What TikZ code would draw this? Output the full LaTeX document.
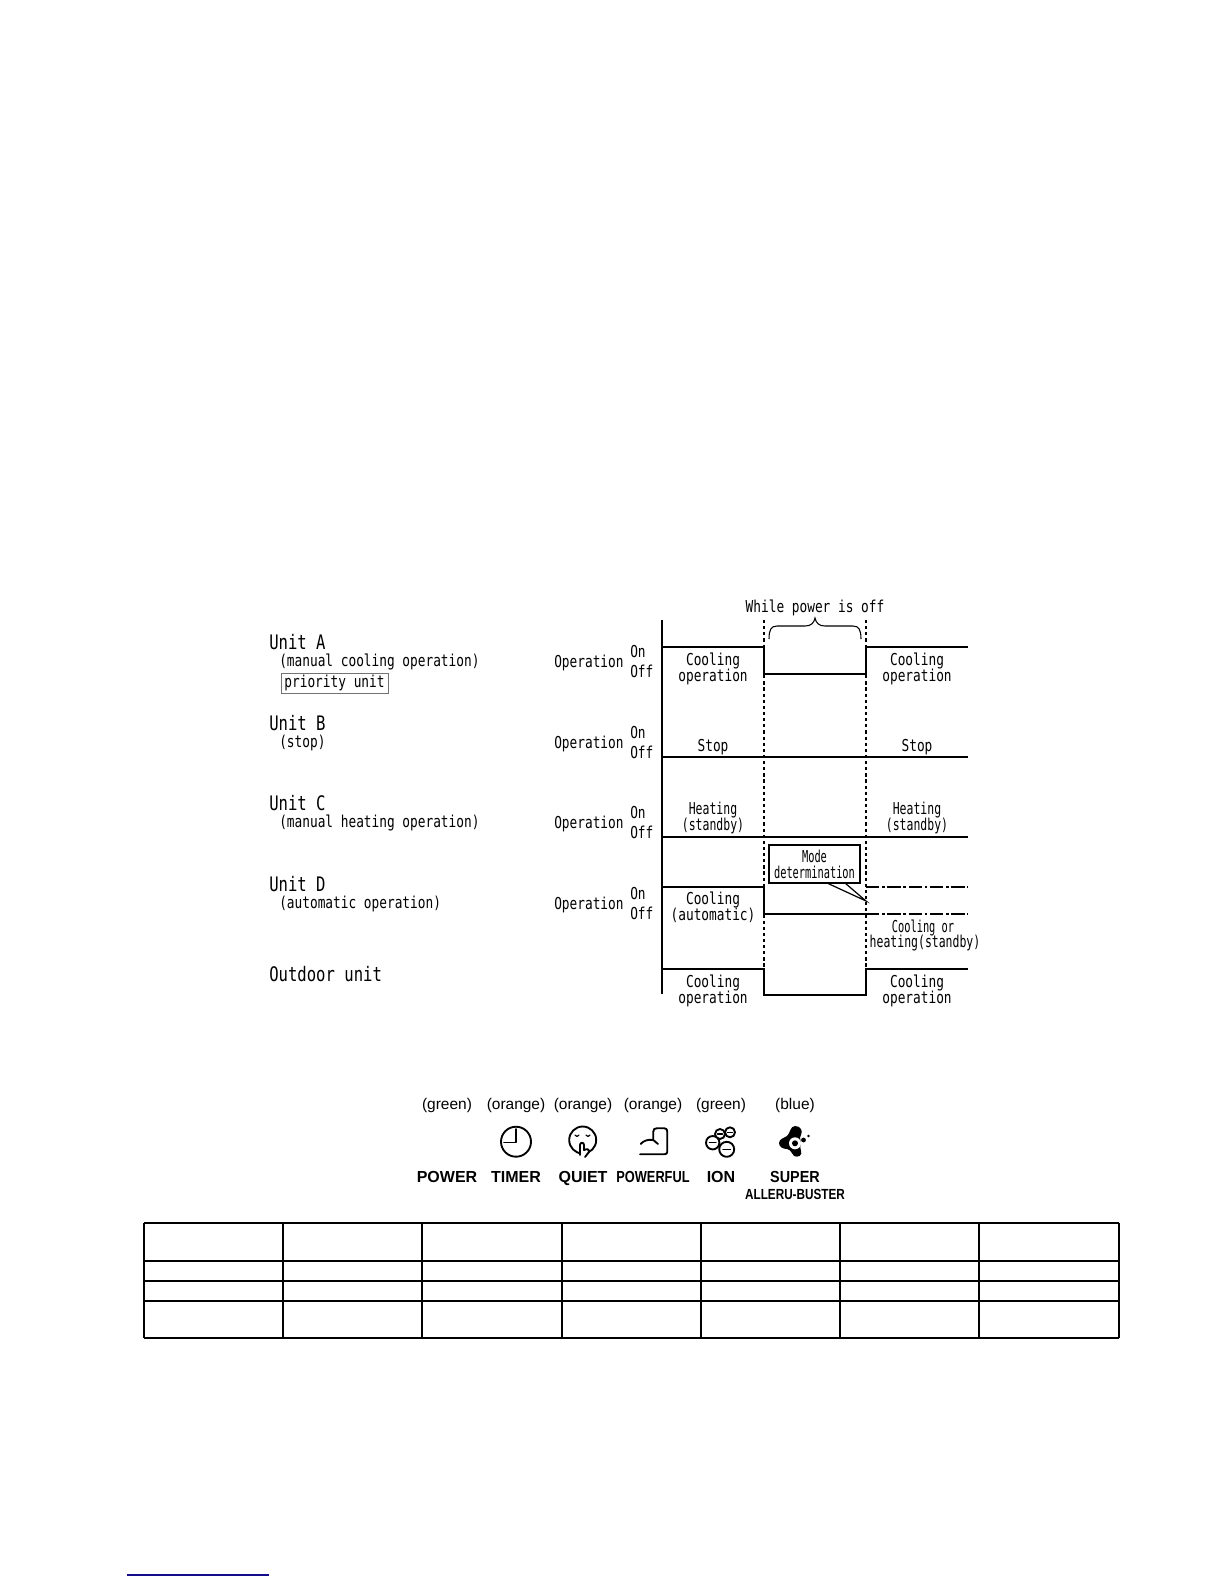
\documentclass[tikz,border=0pt]{standalone}
\usepackage{fontspec}
\setmainfont{Liberation Sans}
\newfontfamily\gothfont[FakeStretch=0.78]{DejaVu Sans Mono}
\newfontfamily\tightfont[FakeStretch=0.70]{DejaVu Sans Mono}
\newfontfamily\slimfont[FakeStretch=0.63]{DejaVu Sans Mono}
\newfontfamily\condfont[FakeStretch=0.80]{Liberation Sans}
\newfontfamily\semifont[FakeStretch=0.90]{Liberation Sans}
\usetikzlibrary{positioning}
\definecolor{linkblue}{RGB}{20,10,140}
\begin{document}
\begin{tikzpicture}[x=0.75pt, y=-0.75pt,
  gothic/.style={inner sep=0pt, font=\gothfont\fontsize{12.3}{12}\selectfont},
  tight/.style={inner sep=0pt, align=center, font=\tightfont\fontsize{12.3}{12}\selectfont},
  slim/.style={inner sep=0pt, align=center, font=\slimfont\fontsize{12.3}{12}\selectfont},
  oneline/.style={gothic, anchor=west, text height=9pt, text depth=0pt},
  twoline/.style={gothic, align=center},
  unitname/.style={inner sep=0pt, anchor=west, text height=11pt, text depth=0pt, font=\gothfont\fontsize{15}{16}\selectfont},
  signal/.style={line width=1.1pt},
  dotline/.style={line width=1.1pt, dash pattern=on 2.4pt off 2.2pt},
  dashdot/.style={line width=0.9pt, dash pattern=on 10pt off 2pt on 2pt off 2pt},
  tablerule/.style={line width=1.5pt},
  color label/.style={inner sep=0pt, font=\fontsize{11.6}{12}\selectfont},
  key label/.style={inner sep=0pt, text height=8.8pt, text depth=0pt, font=\bfseries\fontsize{12}{12}\selectfont},
  icon/.style={line width=1.4pt, line cap=round, line join=round}]
  \useasboundingbox (0,0) rectangle (1224,1584);

  % left column
  \foreach \u/\t/\ya in {A/{(manual cooling operation)}/642, B/{(stop)}/723,
                         C/{(manual heating operation)}/803, D/{(automatic operation)}/884}{
    \node[unitname] (unit\u) at (269,\ya) {Unit \u};
    \node[oneline] (mode\u) at (279,\ya+18) {\t};
    \node[oneline] (oper\u) at (554,\ya+19.5) {Operation};
    \node[oneline] (on\u) at (630,\ya+9.5) {On};
    \node[oneline] (off\u) at (630,\ya+29) {Off};
  }
  \node[unitname] (outdoor) at (269,974) {Outdoor unit};
  \node[gothic, draw=black!55, line width=0.5pt, minimum width=80pt, minimum height=15pt] (priority) at (334.5,683) {priority unit};

  % timing lines
  \draw[signal, line width=1.3pt] (662,620) -- (662,994);
  \draw[dotline] (764,620) -- (764,968);
  \draw[dotline] (866,620) -- (866,968);
  \draw[signal] (662,647) -- (764,647) -- (764,674) -- (866,674) -- (866,647) -- (968,647);
  \draw[signal] (662,757) -- (968,757);
  \draw[signal] (662,837) -- (968,837);
  \draw[signal] (662,887) -- (764,887) -- (764,914) -- (866,914);
  \draw[dashdot] (866,887) -- (968,887);
  \draw[dashdot] (866,914) -- (968,914);
  \draw[signal] (662,969) -- (764,969) -- (764,995) -- (866,995) -- (866,969) -- (968,969);

  \node[gothic] (offtitle) at (815,607.5) {While power is off};
  \draw[line width=0.8pt] (769,639) .. controls (769,630) and (771,626) .. (777,626) -- (805,626)
    .. controls (811,626) and (814,623) .. (815,618) .. controls (816,623) and (819,626) .. (825,626)
    -- (853,626) .. controls (859,626) and (861,630) .. (861,639);

  % states
  \foreach \xa in {713,917}{
    \node[twoline] at (\xa,668.5) {Cooling\\operation};
    \node[gothic] at (\xa,747) {Stop};
    \node[tight] at (\xa,818) {Heating\\(standby)};
    \node[twoline] at (\xa,990.5) {Cooling\\operation};
  }
  \node[twoline] (autostate) at (713,907.5) {Cooling\\(automatic)};
  \node[slim] (orstate) at (923,928) {Cooling or};
  \node[tight] (standbystate) at (925,943.5) {heating(standby)};

  % callout
  \node[slim, draw, line width=1.1pt, fill=white, minimum width=68pt, minimum height=28.5pt] (modebox) at (814.5,864) {Mode\\determination};
  \coordinate (tip) at (866,901);
  \coordinate (tailA) at (827,883);
  \coordinate (tailB) at (845,883);
  \draw[line width=0.9pt] (tailA) -- (tip) -- (tailB);

  % indicator keys
  \foreach \n/\xa/\c/\k in {pw/447/green/POWER, tm/516/orange/TIMER, qt/583/orange/QUIET, io/721/green/ION}{
    \node[color label] (col\n) at (\xa,1105) {(\c)};
    \node[key label] (key\n) at (\xa,1177) {\k};
  }
  \node[color label] (colpf) at (653,1105) {(orange)};
  \node[key label, font=\condfont\bfseries\fontsize{12}{12}\selectfont] (keypf) at (653,1177) {POWERFUL};
  \node[color label] (colsp) at (795,1105) {(blue)};
  \node[key label, font=\semifont\bfseries\fontsize{12}{12}\selectfont] (keysp) at (795,1177) {SUPER};
  \node[key label, font=\condfont\bfseries\fontsize{11}{12}\selectfont] (keyab) at (795,1194) {ALLERU-BUSTER};

  % timer
  \draw[icon] (516,1141.7) circle (15);
  \draw[icon] (516,1129) -- (516,1142.5) -- (504,1142.5);
  % quiet
  \draw[icon] (582.7,1140) circle (13.5);
  \draw[icon, line width=0.9pt] (575,1135) .. controls (576,1137) and (578,1137) .. (579,1135);
  \draw[icon, line width=0.9pt] (586,1135) .. controls (587,1137) and (589,1137) .. (590,1135);
  \draw[icon, fill=white] (580,1155) -- (580,1145) .. controls (580,1142) and (584,1142) .. (584,1145) -- (584,1150)
    .. controls (588,1148) and (590,1150) .. (589,1152) .. controls (588,1154) and (586,1155) .. (585,1157);
  % powerful
  \draw[icon] (640,1154.3) -- (664.3,1154.3) .. controls (666.3,1154.3) and (667.3,1153.3) .. (667.3,1151.7)
    -- (667.3,1131.7) .. controls (667.3,1129.3) and (666.3,1128.3) .. (664.3,1128.3) -- (656.7,1128.3)
    .. controls (654.3,1128.3) and (653.3,1129.3) .. (653.3,1131.7) -- (653.3,1140) -- (658,1144);
  \draw[icon] (640.7,1144) .. controls (643,1141) and (648,1139) .. (653.3,1140);
  % ion
  \foreach \xa/\ya/\r in {720/1134/5, 730/1132.3/5, 712.7/1142.7/6.7, 726.7/1149.3/7.5}{
    \draw[icon, fill=white] (\xa,\ya) circle (\r);
    \draw[icon, line width=1pt] (\xa-\r*0.5,\ya) -- (\xa+\r*0.5,\ya);
  }
  % allergen
  \fill (795,1126) .. controls (801,1126) and (803,1131) .. (801,1135) .. controls (799,1138) and (801,1141) .. (801,1143)
    .. controls (801,1146) and (799,1148) .. (801,1151) .. controls (803,1155) and (798,1158) .. (794,1156)
    .. controls (791,1154) and (792,1150) .. (787,1149) .. controls (783,1149) and (779,1147) .. (779,1143)
    .. controls (779,1139) and (784,1138) .. (787,1136) .. controls (790,1134) and (790,1126) .. (795,1126);
  \fill[white] (795,1143.3) circle (6);
  \fill (795,1143.3) circle (3);
  \fill (803.5,1140) circle (2.4);
  \fill (808.5,1136) circle (1.4);

  % table
  \foreach \xa in {144,283,422,562,701,840,979,1119}{
    \draw[tablerule] (\xa,1223) -- (\xa,1338);
  }
  \foreach \ya in {1223,1261,1281,1301,1338}{
    \draw[tablerule] (144,\ya) -- (1119,\ya);
  }

  \draw[linkblue, line width=0.8pt] (127,1575) -- (269,1575);
\end{tikzpicture}
\end{document}
